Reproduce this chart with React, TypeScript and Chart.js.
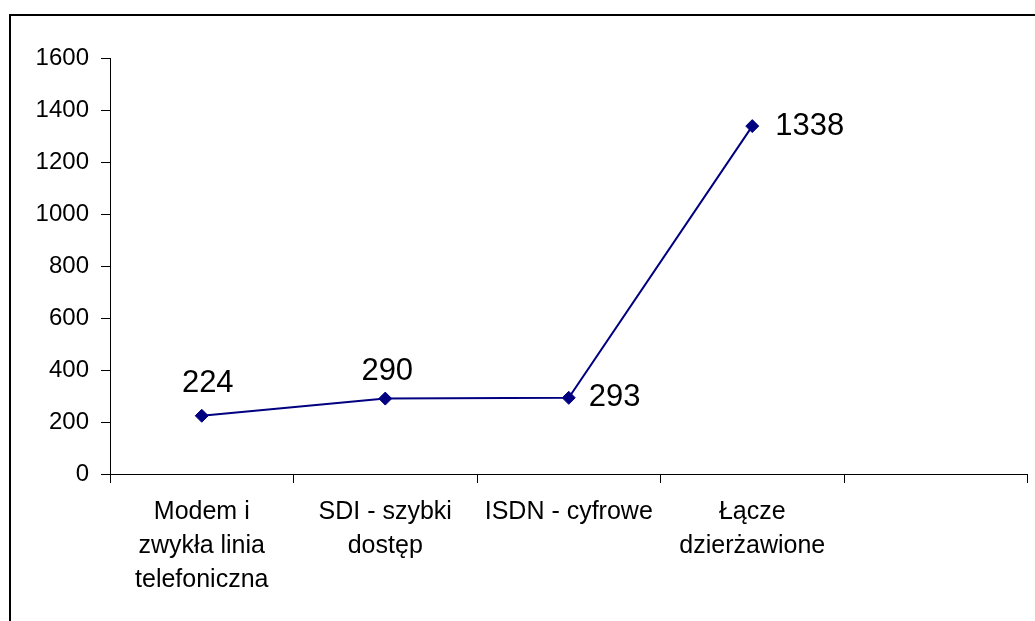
import React, { useEffect, useRef } from "react";
import { Chart, registerables } from "chart.js";

Chart.register(...registerables);

const categories: (string | string[])[] = [
  ["Modem i", "zwykła linia", "telefoniczna"],
  ["SDI - szybki", "dostęp"],
  ["ISDN - cyfrowe"],
  ["Łącze", "dzierżawione"],
  "",
];
const values: (number | null)[] = [224, 290, 293, 1338, null];
const yTicks = { min: 0, max: 1600, step: 200 };

// label placement relative to each point (style only)
const labelStyle = [
  { align: "center", dx: 6, dy: -32 },
  { align: "center", dx: 2, dy: -27 },
  { align: "left", dx: 20, dy: 0 },
  { align: "left", dx: 23, dy: 0 },
];

const FONT = "Arial, 'Liberation Sans', sans-serif";

const valueLabels = {
  id: "valueLabels",
  afterDatasetsDraw(chart: any) {
    const ctx = chart.ctx;
    const meta = chart.getDatasetMeta(0);
    ctx.save();
    ctx.fillStyle = "#000";
    ctx.font = `31px ${FONT}`;
    ctx.textBaseline = "middle";
    meta.data.forEach((pt: any, i: number) => {
      const v = values[i];
      if (v == null) return;
      const s = labelStyle[i];
      ctx.textAlign = s.align;
      ctx.fillText(String(v), pt.x + s.dx, pt.y + s.dy);
    });
    ctx.restore();
  },
};

export default function App() {
  const ref = useRef<HTMLCanvasElement>(null);
  useEffect(() => {
    if (!ref.current) return;
    const chart = new Chart(ref.current, {
      type: "line",
      data: {
        labels: categories,
        datasets: [
          {
            data: values,
            borderColor: "#000080",
            backgroundColor: "#000080",
            borderWidth: 2,
            pointStyle: "rectRot",
            pointRadius: 6.5,
            pointBorderWidth: 1,
            pointBackgroundColor: "#000080",
            pointBorderColor: "#000080",
            tension: 0,
            spanGaps: false,
          },
        ],
      },
      options: {
        responsive: false,
        animation: false,
        devicePixelRatio: 1,
        layout: { padding: { left: 0, top: 58, right: 6, bottom: 0 } },
        plugins: {
          legend: { display: false },
          tooltip: { enabled: false },
        },
        scales: {
          x: {
            offset: true,
            grid: {
              display: true,
              offset: true,
              drawOnChartArea: false,
              drawTicks: true,
              tickLength: 9,
              color: "#000",
            },
            border: { display: true, color: "#000", width: 1 },
            ticks: {
              color: "#000",
              font: { family: FONT, size: 25, lineHeight: 1.36 },
              padding: 12,
              maxRotation: 0,
              autoSkip: false,
            },
            afterFit: (scale: any) => {
              scale.height = 147;
            },
          },
          y: {
            min: yTicks.min,
            max: yTicks.max,
            grid: {
              display: true,
              drawOnChartArea: false,
              drawTicks: true,
              tickLength: 9,
              color: "#000",
            },
            border: { display: true, color: "#000", width: 1 },
            ticks: {
              stepSize: yTicks.step,
              color: "#000",
              font: { family: FONT, size: 24 },
              padding: 12,
              callback: (v: any) => String(v),
            },
            afterFit: (scale: any) => {
              scale.width = 110;
            },
          },
        },
      },
      plugins: [valueLabels],
    } as any);
    return () => chart.destroy();
  }, []);

  return (
    <div style={{ position: "fixed", left: 0, top: 0, width: 1035, height: 621, overflow: "hidden", background: "#fff" }}>
      <div
        style={{
          position: "absolute",
          left: 9,
          top: 14,
          width: 1100,
          height: 700,
          border: "2px solid #000",
          boxSizing: "border-box",
        }}
      />
      <canvas
        ref={ref}
        width={1035}
        height={621}
        style={{ position: "absolute", left: 0, top: 0, width: 1035, height: 621 }}
      />
    </div>
  );
}
